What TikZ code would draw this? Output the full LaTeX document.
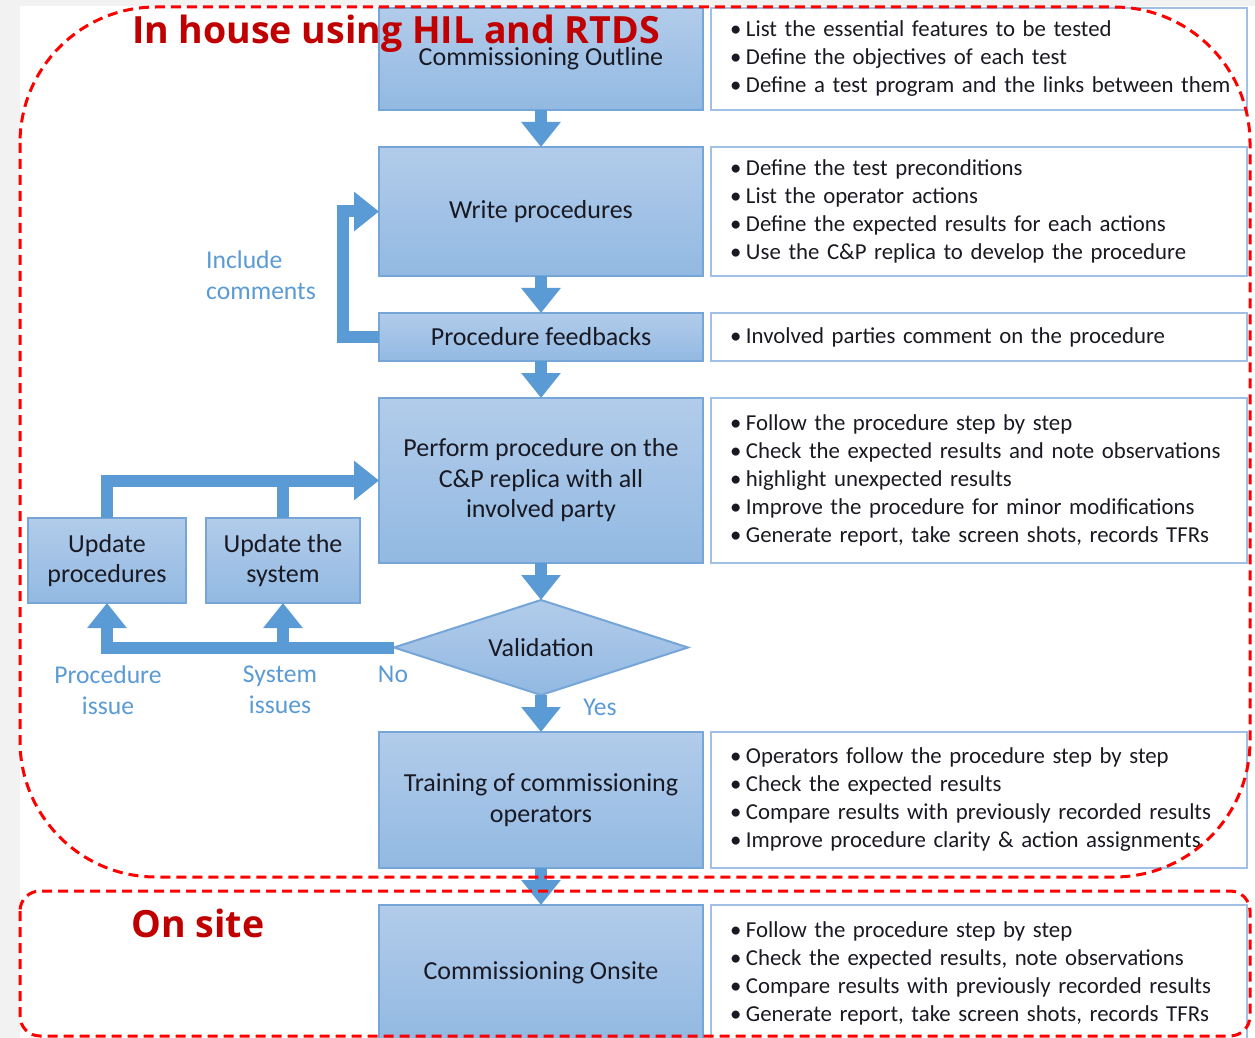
\documentclass[tikz,border=0pt]{standalone}
\usepackage{fontspec}
\setmainfont{Carlito}
\newfontfamily\headfont{Open Sans}
\usetikzlibrary{positioning,shapes.geometric,arrows.meta}

\definecolor{boxtop}{RGB}{178,204,234}
\definecolor{boxbot}{RGB}{146,185,226}
\definecolor{boxline}{RGB}{118,165,216}
\definecolor{noteline}{RGB}{160,192,230}
\definecolor{flowblue}{RGB}{91,155,213}
\definecolor{darkred}{RGB}{192,0,0}
\definecolor{pagegray}{RGB}{242,242,242}
\definecolor{ink}{RGB}{25,25,35}

\tikzset{
  stage/.style={draw=boxline, line width=1pt, outer sep=0pt, top color=boxtop, bottom color=boxbot,
    minimum width=162pt, align=center, text=ink, font=\fontsize{13}{15.25}\selectfont},
  note/.style={draw=noteline, line width=1pt, outer sep=0pt, fill=white, text width=249pt,
    inner xsep=9.5pt, align=left, text=ink, font=\fontsize{11.4}{14}\selectfont},
  flow/.style={flowblue, line width=6pt, -{Triangle[width=19pt,length=12.5pt]}},
  bar/.style={flowblue, line width=6pt},
  tag/.style={text=flowblue, font=\fontsize{12.8}{15.75}\selectfont, align=center},
  zone/.style={red, line width=1.5pt, dash pattern=on 5pt off 3pt},
  heading/.style={text=darkred, font=\headfont\bfseries\fontsize{18.75}{21}\selectfont}
}
% one bullet line, kept on a single line
\newcommand{\bul}[1]{\makebox[8pt][l]{\textbullet}\mbox{#1}}

\begin{document}
\begin{tikzpicture}[x=0.5pt, y=-0.5pt, node distance=18.5pt]
  % page
  \fill[pagegray] (0,0) rectangle (1255,1038);
  \fill[white] (20,6) rectangle (1255,1038);
  \useasboundingbox (0,0) rectangle (1255,1038);

  % main column
  \node[stage, minimum height=51pt] (outline) at (541,59) {Commissioning Outline};
  \node[stage, minimum height=64.5pt, below=of outline] (write) {Write procedures};
  \node[stage, minimum height=24pt, below=of write] (feedback) {Procedure feedbacks};
  \node[stage, minimum height=82.5pt, below=of feedback] (perform)
    {Perform procedure on the\\C\&P replica with all\\involved party};
  \node[stage, diamond, aspect=3.1, minimum width=147pt, minimum height=47.5pt,
    inner sep=0pt, below=of perform] (valid) {Validation};
  \node[stage, minimum height=68pt, below=of valid] (training)
    {Training of commissioning\\operators};
  \node[stage, minimum height=68pt, below=of training] (onsite) {Commissioning Onsite};

  % rework boxes
  \node[stage, minimum width=79pt, minimum height=42.5pt] (updproc) at (107,560.5)
    {Update\\procedures};
  \node[stage, minimum width=77pt, minimum height=42.5pt] (updsys) at (283,560.5)
    {Update the\\system};

  % notes on the right
  \begin{scope}[node distance=4pt]
    \node[note, minimum height=51pt, right=of outline] (noteA)
      {\bul{List the essential features to be tested}\\
       \bul{Define the objectives of each test}\\
       \bul{Define a test program and the links between them}};
    \node[note, minimum height=64.5pt, right=of write] (noteB)
      {\bul{Define the test preconditions}\\
       \bul{List the operator actions}\\
       \bul{Define the expected results for each actions}\\
       \bul{Use the C\&P replica to develop the procedure}};
    \node[note, minimum height=24pt, right=of feedback] (noteC)
      {\bul{Involved parties comment on the procedure}};
    \node[note, minimum height=82.5pt, right=of perform] (noteD)
      {\bul{Follow the procedure step by step}\\
       \bul{Check the expected results and note observations}\\
       \bul{highlight unexpected results}\\
       \bul{Improve the procedure for minor modifications}\\
       \bul{Generate report, take screen shots, records TFRs}};
    \node[note, minimum height=68pt, right=of training] (noteE)
      {\bul{Operators follow the procedure step by step}\\
       \bul{Check the expected results}\\
       \bul{Compare results with previously recorded results}\\
       \bul{Improve procedure clarity \& action assignments}};
    \node[note, minimum height=68pt, right=of onsite] (noteF)
      {\bul{Follow the procedure step by step}\\
       \bul{Check the expected results, note observations}\\
       \bul{Compare results with previously recorded results}\\
       \bul{Generate report, take screen shots, records TFRs}};
  \end{scope}

  % main flow
  \draw[flow] (outline) -- (write);
  \draw[flow] (write) -- (feedback);
  \draw[flow] (feedback) -- (perform);
  \draw[flow] (perform) -- (valid);
  \draw[flow] (valid) -- (training);
  \draw[flow] (training) -- (onsite);

  % loops back
  \draw[flow] (feedback.west) -- ++(-36,0) |- (write.west);
  \draw[flow] (updproc.north) |- (perform.west);
  \draw[bar] (updsys.north) -- (updsys.north |- perform.west);
  \draw[flow] (valid.west) -| (updproc.south);
  \draw[flow] (updsys.south |- valid.west) -- (updsys.south);

  % labels
  \node[tag, align=left] (incl) at (261,275) {Include\\comments};
  \node[tag] (pissue) at (108,690) {Procedure\\issue};
  \node[tag] (sissue) at (280,690) {System\\issues};
  \node[tag] (no) at (393,674) {No};
  \node[tag] (yes) at (600,707) {Yes};

  % zones
  \draw[zone, rounded corners=68pt] (20,7) rectangle (1250,877);
  \draw[zone, rounded corners=10pt] (20,891) rectangle (1250,1036);
  \node[heading] (inhouse) at (396,34) {In house using HIL and RTDS};
  \node[heading] (site) at (198,923) {On site};
\end{tikzpicture}
\end{document}
